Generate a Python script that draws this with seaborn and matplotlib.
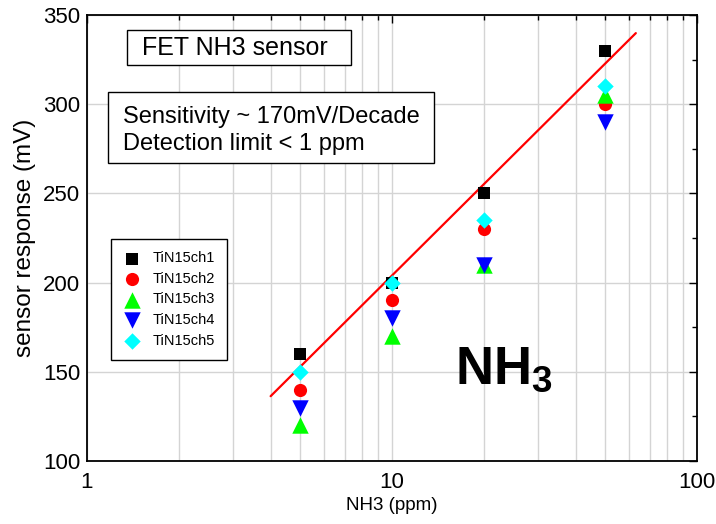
import numpy as np
import pandas as pd
import matplotlib
matplotlib.use("Agg")
import matplotlib.pyplot as plt
from matplotlib.patches import Rectangle
from matplotlib.ticker import LogLocator, MultipleLocator, NullFormatter
import seaborn as sns

# NH3 concentrations (ppm) and responses per channel (mV)
conc = [5, 10, 20, 50]
ch1 = [160, 200, 250, 330]
ch2 = [140, 190, 230, 300]
ch3 = [120, 170, 210, 305]
ch4 = [130, 180, 210, 290]
ch5 = [150, 200, 235, 310]
channels = ["TiN15ch1", "TiN15ch2", "TiN15ch3", "TiN15ch4", "TiN15ch5"]

# log-linear fit: response = slope * log10(ppm) + offset
fit_slope = 170.0
fit_offset = 34.0
fit_range = [4.0, 63.0]

sns.set_theme(style="white")
plt.rcParams["font.family"] = ["Liberation Sans", "DejaVu Sans"]
plt.rcParams.update({
    "text.color": "black",
    "axes.labelcolor": "black",
    "xtick.color": "black",
    "ytick.color": "black",
    "mathtext.fontset": "custom",
    "mathtext.rm": "Liberation Sans",
    "mathtext.bf": "Liberation Sans:bold",
    "mathtext.it": "Liberation Sans:italic",
})

rows = []
for name, vals in zip(channels, [ch1, ch2, ch3, ch4, ch5]):
    for c, v in zip(conc, vals):
        rows.append({"ppm": c, "mV": v, "channel": name})
df = pd.DataFrame(rows)

fit_x = np.logspace(np.log10(fit_range[0]), np.log10(fit_range[1]), 50)
fit_df = pd.DataFrame({"ppm": fit_x, "mV": fit_slope * np.log10(fit_x) + fit_offset})

fig = plt.figure(figsize=(7.16, 5.24), dpi=100)
ax = fig.add_axes([0.1215, 0.1202, 0.852, 0.851])
ax.set_xscale("log")
ax.set_xlim(1, 100)
ax.set_ylim(100, 350)

# grid: decades and sub-decades on x, every 50 mV on y
ax.xaxis.set_major_locator(LogLocator(base=10, numticks=10))
ax.xaxis.set_minor_locator(LogLocator(base=10, subs=np.arange(2, 10), numticks=20))
ax.xaxis.set_minor_formatter(NullFormatter())
ax.yaxis.set_major_locator(MultipleLocator(50))
ax.yaxis.set_minor_locator(MultipleLocator(25))
ax.grid(True, which="major", axis="both", color="#d4d4d4", lw=1.0)
ax.grid(True, which="minor", axis="x", color="#d4d4d4", lw=1.0)
ax.set_axisbelow(True)

sns.lineplot(data=fit_df, x="ppm", y="mV", ax=ax, color="#ff0000", lw=1.6, zorder=2)

palette = {"TiN15ch1": "#000000", "TiN15ch2": "#ff0000", "TiN15ch3": "#00ff00",
           "TiN15ch4": "#0000ff", "TiN15ch5": "#00ffff"}
markers = {"TiN15ch1": "s", "TiN15ch2": "o", "TiN15ch3": "^",
           "TiN15ch4": "v", "TiN15ch5": "D"}
sizes = {"TiN15ch1": 80, "TiN15ch2": 90, "TiN15ch3": 140, "TiN15ch4": 140, "TiN15ch5": 70}
for name in channels:
    sub = df[df["channel"] == name]
    sns.scatterplot(data=sub, x="ppm", y="mV", ax=ax, color=palette[name],
                    marker=markers[name], s=sizes[name], linewidth=0,
                    label=name, zorder=3)

ax.set_xticks([1, 10, 100])
ax.set_xticklabels(["1", "10", "100"])
ax.tick_params(axis="both", which="both", direction="in", top=True, right=True,
               color="black", labelsize=16, width=1.0)
ax.tick_params(which="major", length=6)
ax.tick_params(which="minor", length=3.5)
ax.tick_params(axis="x", pad=8)
ax.tick_params(axis="y", pad=5)
for s in ax.spines.values():
    s.set_color("black")
    s.set_linewidth(1.3)

ax.set_xlabel("NH3 (ppm)", fontsize=13.5, labelpad=3)
ax.set_ylabel("sensor response (mV)", fontsize=17.5, labelpad=5)

leg = ax.legend(loc="upper left", bbox_to_anchor=(0.039, 0.498), fontsize=10.5,
                frameon=True, fancybox=False, edgecolor="black", framealpha=1,
                borderpad=0.85, handlelength=1.2, handletextpad=0.8,
                labelspacing=0.45, markerscale=1.0, borderaxespad=0)
leg.get_frame().set_linewidth(1.0)

# annotation boxes
ax.add_patch(Rectangle((0.0656, 0.888), 0.3672, 0.078, transform=ax.transAxes,
                       fc="white", ec="black", lw=1.0, zorder=5))
ax.text(0.0902, 0.927, "FET NH3 sensor", transform=ax.transAxes, fontsize=18,
        va="center", ha="left", zorder=6)
ax.add_patch(Rectangle((0.0344, 0.668), 0.5345, 0.159, transform=ax.transAxes,
                       fc="white", ec="black", lw=1.0, zorder=5))
ax.text(0.059, 0.742, "Sensitivity ~ 170mV/Decade\nDetection limit < 1 ppm",
        transform=ax.transAxes, fontsize=17, va="center", ha="left",
        linespacing=1.3, zorder=6)
ax.text(0.604, 0.205, r"NH$_\mathbf{3}$", transform=ax.transAxes, fontsize=38,
        fontweight="bold", va="center", ha="left")

fig.savefig("out.png", dpi=100)
